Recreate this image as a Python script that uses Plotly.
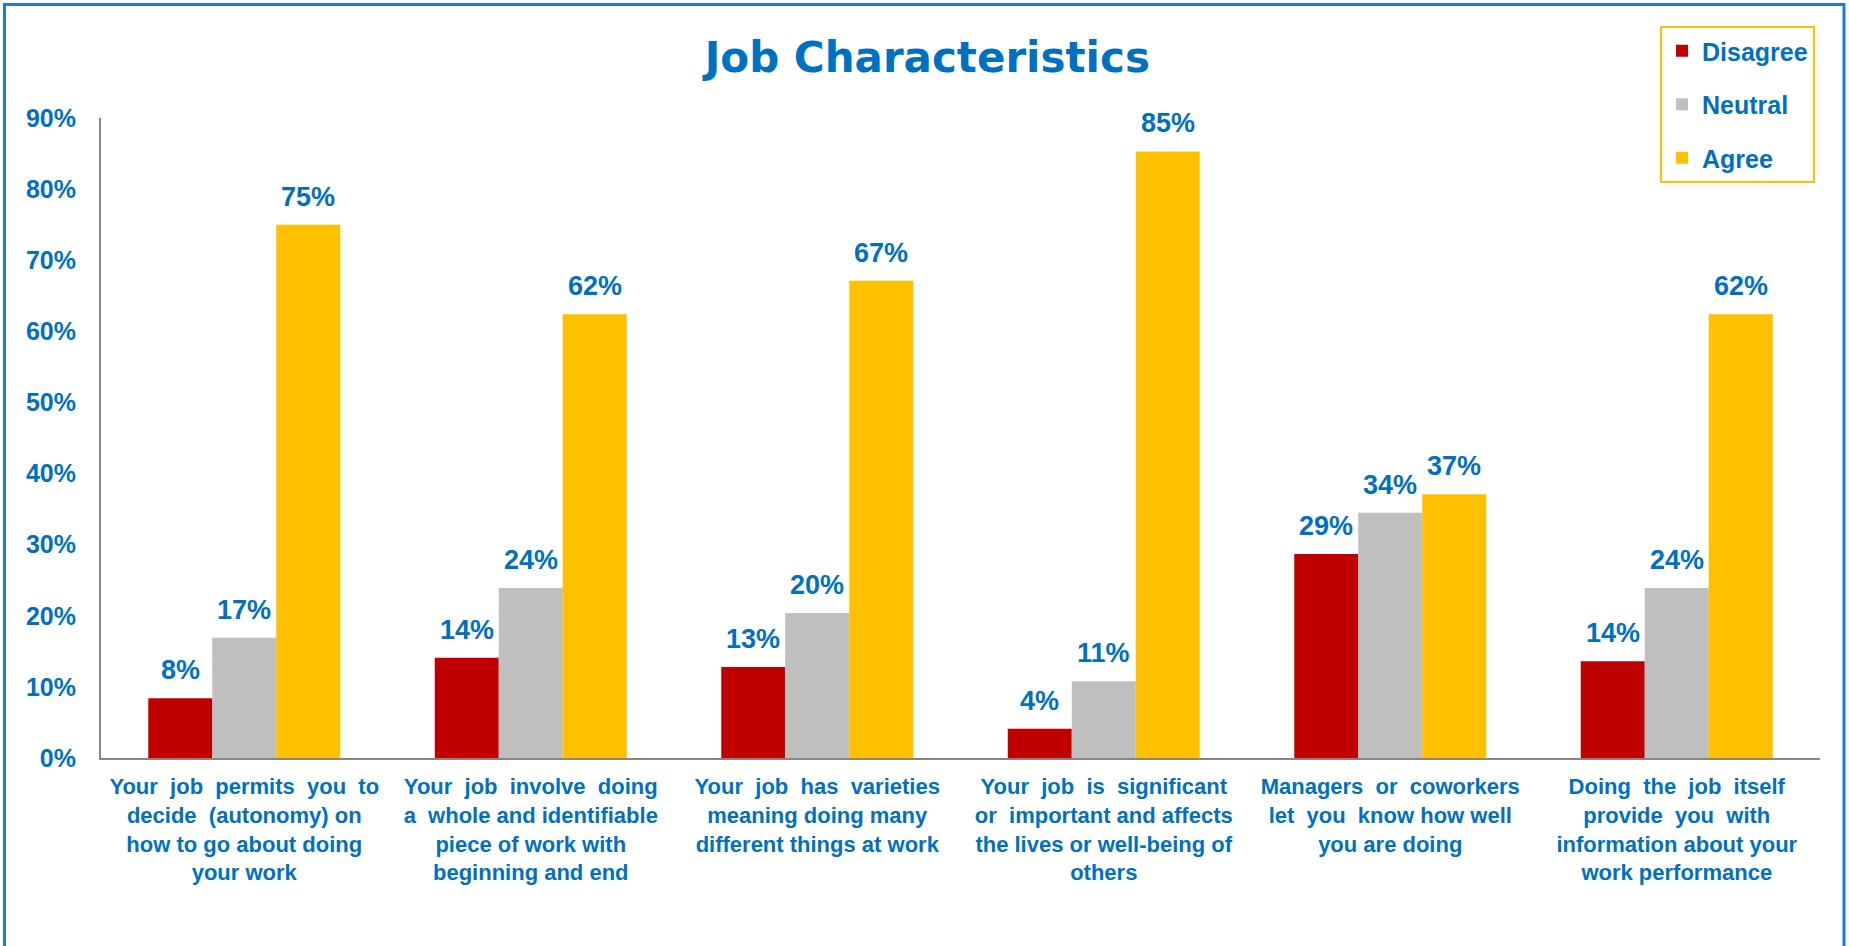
import plotly.graph_objects as go

# Survey results: share of respondents per answer (percent)
categories = [
    "Your&nbsp; job&nbsp; permits&nbsp; you&nbsp; to<br>decide&nbsp; (autonomy) on<br>how to go about doing<br>your work",
    "Your&nbsp; job&nbsp; involve&nbsp; doing<br>a&nbsp; whole and identifiable<br>piece of work with<br>beginning and end",
    "Your&nbsp; job&nbsp; has&nbsp; varieties<br>meaning doing many<br>different things at work",
    "Your&nbsp; job&nbsp; is&nbsp; significant<br>or&nbsp; important and affects<br>the lives or well-being of<br>others",
    "Managers&nbsp; or&nbsp; coworkers<br>let&nbsp; you&nbsp; know how well<br>you are doing",
    "Doing&nbsp; the&nbsp; job&nbsp; itself<br>provide&nbsp; you&nbsp; with<br>information about your<br>work performance",
]
disagree = [8.4, 14.1, 12.8, 4.1, 28.7, 13.6]
neutral = [16.9, 23.9, 20.4, 10.8, 34.5, 23.9]
agree = [75.0, 62.4, 67.1, 85.3, 37.1, 62.4]

series_names = ["Disagree", "Neutral", "Agree"]
series_values = [disagree, neutral, agree]
series_colors = ["#C00000", "#BFBFBF", "#FFC000"]

y_ticks = [0, 10, 20, 30, 40, 50, 60, 70, 80, 90]

BLUE = "#0070C0"
FONT = "Liberation Sans, Arial, sans-serif"

W, H = 1849, 946
ML, MR, MT, MB = 101, 29, 118, 188
BARGAP = 0.33

fig = go.Figure()
for i, (name, vals, col) in enumerate(zip(series_names, series_values, series_colors)):
    fig.add_trace(go.Bar(
        name=name,
        x=categories,
        y=vals,
        marker=dict(color=col, line=dict(width=0)),
        legendgroup=name,
    ))

# value labels above each bar
plot_w = W - ML - MR
bar_px = plot_w / len(categories) * (1 - BARGAP) / len(series_names)
for k, vals in enumerate(series_values):
    for cat, v in zip(categories, vals):
        fig.add_annotation(
            x=cat, y=v, xref="x", yref="y",
            text=f"{v:.0f}%",
            showarrow=False,
            yanchor="bottom",
            xshift=(k - 1) * bar_px,
            yshift=11,
            font=dict(family=FONT, size=27, color=BLUE, weight="bold"),
        )

# outer frame
def px_to_paper_x(px):
    return (px - ML) / plot_w

def px_to_paper_y(py):
    return (H - MB - py) / (H - MT - MB)

fig.add_shape(
    type="path",
    xref="paper", yref="paper",
    path=(f"M {px_to_paper_x(4.5)} {px_to_paper_y(980)} "
          f"L {px_to_paper_x(4.5)} {px_to_paper_y(4.5)} "
          f"L {px_to_paper_x(1844)} {px_to_paper_y(4.5)} "
          f"L {px_to_paper_x(1844)} {px_to_paper_y(980)}"),
    line=dict(color="#1F7AD4", width=3),
)

fig.update_layout(
    width=W, height=H,
    margin=dict(l=ML, r=MR, t=MT, b=MB, autoexpand=False),
    paper_bgcolor="white",
    plot_bgcolor="white",
    barmode="group",
    bargap=BARGAP,
    bargroupgap=0,
    title=dict(
        text="Job Characteristics",
        x=0.5015, xref="container", xanchor="center",
        y=1 - 57 / H, yref="container", yanchor="middle",
        font=dict(family="DejaVu Sans, sans-serif", size=42, color=BLUE, weight="bold"),
    ),
    legend=dict(
        x=px_to_paper_x(1660), y=px_to_paper_y(26),
        xanchor="left", yanchor="top",
        bordercolor="#FFC000", borderwidth=2,
        bgcolor="white",
        font=dict(family=FONT, size=25, color=BLUE, weight="bold"),
        traceorder="grouped",
        tracegroupgap=18,
    ),
    xaxis=dict(
        showline=True, linecolor="#868686", linewidth=2,
        showgrid=False, ticks="",
        tickfont=dict(family=FONT, size=22, color=BLUE, weight="bold"),
        ticklabelstandoff=8,
    ),
    yaxis=dict(
        range=[0, 90],
        tickvals=y_ticks,
        ticktext=[f"{t}%" for t in y_ticks],
        showline=True, linecolor="#868686", linewidth=2,
        showgrid=False, zeroline=False, ticks="",
        tickfont=dict(family=FONT, size=25, color=BLUE, weight="bold"),
        ticklabelstandoff=18,
    ),
)

fig.write_html("out.html")
